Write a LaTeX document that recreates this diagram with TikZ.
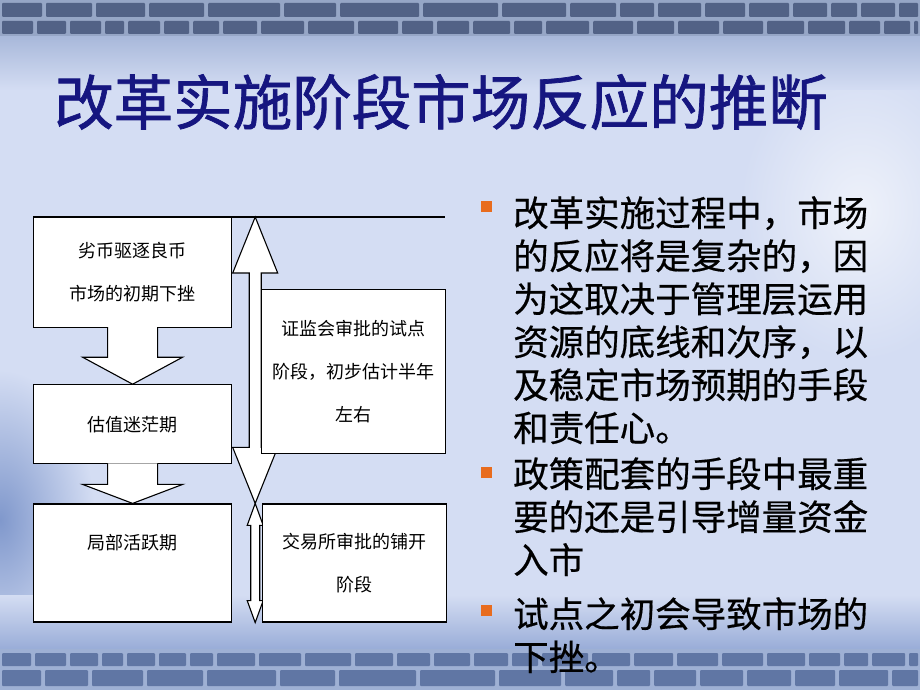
\documentclass[tikz,border=0pt]{standalone}
\usepackage{fontspec}
\usepackage{tikz}
\usetikzlibrary{backgrounds,calc,positioning}

\newfontfamily\heiti{Noto Sans CJK SC}
\newfontfamily\heitibody{Noto Sans CJK SC}[FakeBold=0.5]
\newfontfamily\heitititle{Noto Sans CJK SC}[FakeBold=1.2]
\newcommand{\titletext}{\heitititle\fontsize{59.5}{66}\selectfont}
\newcommand{\bodytext}{\heitibody\fontsize{35.5}{43}\selectfont}
\newcommand{\boxtext}{\heiti\fontsize{18}{43}\selectfont}

\definecolor{slate}{RGB}{82,98,134}
\definecolor{mortar}{RGB}{150,166,198}
\definecolor{slatelow}{RGB}{96,118,164}
\definecolor{mortarlow}{RGB}{158,176,212}
\definecolor{paleblue}{RGB}{212,221,243}
\definecolor{fadeblue}{RGB}{168,184,218}
\definecolor{deepblue}{RGB}{128,152,204}
\definecolor{titleblue}{RGB}{22,22,128}
\definecolor{bulletorange}{RGB}{232,108,30}

% wide white arrow from the bottom of one stage to the top of the next
\newcommand{\stagearrow}[3]{%
  \draw[blockarrow] ($(#1.south)+(-25,-1)$) -- ($(#2.north)+(-25,-#3)$) -- ++(-25,0)
    -- (#2.north) -- ++(50,-#3) -- ++(-25,0) -- ($(#1.south)+(25,-1)$);}
% white double arrow: top tip, bottom tip, head length, half head, half shaft
\newcommand{\twinarrow}[5]{%
  \draw[blockarrow] (#1) -- ++(#4,#3) -- ++(-#4+#5,0) -- ($(#2)+(#5,-#3)$) -- ++(#4-#5,0)
    -- (#2) -- ++(-#4,-#3) -- ++(#4-#5,0) -- ($(#1)+(-#5,#3)$) -- ++(-#4+#5,0) -- cycle;}

\begin{document}
\begin{tikzpicture}[x=1pt,y=-1pt,thick]
    % `stage' is used for the white boxes.
    % `blockarrow' is used for the wide arrows between and beside them.
    % `point' is used for the orange bullets, `bullettext' for the points.
    \tikzstyle{stage} = [draw,fill=white,line width=1.2pt,inner sep=0pt,align=center,font=\boxtext]
    \tikzstyle{blockarrow} = [draw,fill=white,line width=1.1pt,line join=miter]
    \tikzstyle{point} = [fill=bulletorange,minimum size=11pt,inner sep=0pt]
    \tikzstyle{bullettext} = [anchor=north west,inner sep=0pt,align=left,font=\bodytext]
    \useasboundingbox (0,0) rectangle (920,690);
  \begin{pgfonlayer}{background}
        % Slide background.
        \fill[paleblue] (0,0) rectangle (920,690);
        \shade[inner color=white!60!paleblue,outer color=paleblue] (860,210) ellipse (120 and 150);
        \shade[inner color=deepblue,outer color=paleblue] (0,520) ellipse (95 and 150);
        \shade[top color=fadeblue,bottom color=paleblue] (0,36) rectangle (920,90);
        \shade[top color=paleblue,bottom color=deepblue!70!paleblue] (0,595) rectangle (920,649);
        % Brick bands.
        \fill[mortar] (0,0) rectangle (920,36);
        \foreach \a/\b in {0/44,44/94,94/147,147/206,206/282,282/338,338/421,421/500,500/568,
                           568/618,618/656,656/703,703/747,747/791,791/829,829/859,859/897,897/920}
          \fill[slate,rounded corners=1pt] (\a+2,3) rectangle (\b-2,17);
        \foreach \a/\b in {0/35,35/68,68/103,103/126,126/162,162/191,191/221,221/259,259/306,
                           306/356,356/400,400/435,435/471,471/512,512/544,544/591,591/635,
                           635/676,676/721,721/765,765/806,806/847,847/882,882/912,912/920}
          \fill[slate,rounded corners=1pt] (\a+2,21) rectangle (\b-2,34);
        \fill[mortarlow] (0,649) rectangle (920,690);
        \foreach \a/\b in {0/33,33/68,68/100,100/125,125/157,157/188,188/215,215/257,257/303,
                           303/353,353/395,395/432,432/472,472/510,510/540,540/590,590/632,
                           632/675,675/720,720/765,765/807,807/842,842/870,870/907,907/920}
          \fill[slatelow,rounded corners=1pt] (\a+2,653) rectangle (\b-2,666);
        \foreach \a/\b in {0/43,43/90,90/145,145/205,205/278,278/337,337/418,418/497,497/563,
                           563/615,615/652,652/698,698/745,745/793,793/837,837/890,890/920}
          \fill[slatelow,rounded corners=1pt] (\a+2,670) rectangle (\b-2,686);
  \end{pgfonlayer}
    %
    \node[font=\titletext,text=titleblue] (title) at (441,102) {改革实施阶段市场反应的推断};
    %
    \node[stage,anchor=north west,minimum width=198pt,minimum height=110pt] (bad) at (33,217)
      {劣币驱逐良币\\市场的初期下挫};
    \node[stage,below=56pt of bad,minimum width=198pt,minimum height=79pt] (blur) {估值迷茫期};
    \node[stage,below=39pt of blur,minimum width=198pt,minimum height=118pt] (lively)
      {局部活跃期\\\mbox{}};
    \coordinate (lineend) at (445,217);
    \coordinate (reachtop) at ($(bad.north east)+(23,0)$);
    \coordinate (reachbot) at ($(lively.north east)+(23,0)$);
    \coordinate (openbot) at ($(lively.south east)+(23,0)$);
    \draw[line width=1.2pt] (bad.north west) -- (lineend);
    \twinarrow{reachtop}{reachbot}{56}{22.5}{6}
    \twinarrow{reachbot}{openbot}{22}{8}{4.5}
    \node[stage,anchor=north west,minimum width=184pt,minimum height=164pt] (trial) at (261,289)
      {证监会审批的试点\\阶段，初步估计半年\\左右};
    \node[stage,right=30pt of lively,minimum width=184pt,minimum height=118pt] (rollout)
      {交易所审批的铺开\\阶段};
    \stagearrow{bad}{blur}{27}
    \stagearrow{blur}{lively}{19}
    %
    \node[bullettext] (why) at (513,196)
      {改革实施过程中，市场\\的反应将是复杂的，因\\为这取决于管理层运用\\资源的底线和次序，以\\及稳定市场预期的手段\\和责任心。};
    \node[bullettext] (funds) at (513,457) {政策配套的手段中最重\\要的还是引导增量资金\\入市};
    \node[bullettext] (dip) at (513,597) {试点之初会导致市场的\\下挫。};
    \node[point] (dot1) at ($(why.north west)+(-27,10)$) {};
    \node[point] (dot2) at ($(funds.north west)+(-27,15)$) {};
    \node[point] (dot3) at ($(dip.north west)+(-27,13)$) {};
\end{tikzpicture}
\end{document}
